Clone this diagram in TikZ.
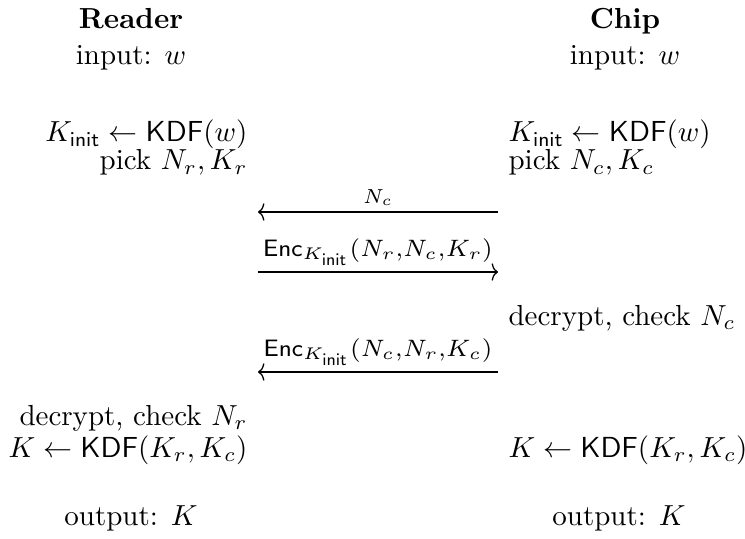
\documentclass[tikz,border=0pt]{standalone}
\usepackage{amsmath}
\usetikzlibrary{arrows.meta}
\begin{document}
\begin{tikzpicture}[x=0.34483pt,y=-0.34483pt,
  txt/.style={inner sep=0pt},
  lcol/.style={txt,anchor=base east},
  rcol/.style={txt,anchor=base west},
  head/.style={txt,anchor=base},
  msg/.style={-{Computer Modern Rightarrow[length=2.2pt,width=6pt]},line width=0.45pt},
  lab/.style={inner sep=0pt,anchor=base,midway},
  biglab/.style={lab,scale=1.17}]
\useasboundingbox (0,0) rectangle (745,539);
% headers
\node[head] (rname) at (131,29) {\textbf{Reader}};
\node[head] (rin) at (131,65) {input: $w$};
\node[head] (cname) at (625,29) {\textbf{Chip}};
\node[head] (cin) at (625,65) {input: $w$};
% reader column
\node[lcol] (r1) at (248,142) {$K_{\mathsf{init}} \leftarrow \mathsf{KDF}(w)$};
\node[lcol] (r2) at (248,170) {pick $N_r, K_r$};
\node[lcol] (r3) at (248,425) {decrypt, check $N_r$};
\node[lcol] (r4) at (248,457) {$K \leftarrow \mathsf{KDF}(K_r, K_c)$};
\node[head] (r5) at (131,525) {output: $K$};
% chip column
\node[rcol] (c1) at (508,142) {$K_{\mathsf{init}} \leftarrow \mathsf{KDF}(w)$};
\node[rcol] (c2) at (508,170) {pick $N_c, K_c$};
\node[rcol] (c3) at (508,325) {decrypt, check $N_c$};
\node[rcol] (c4) at (508,457) {$K \leftarrow \mathsf{KDF}(K_r, K_c)$};
\node[head] (c5) at (619,525) {output: $K$};
% messages
\coordinate (m1a) at (498,212);
\coordinate (m1b) at (258,212);
\coordinate (m2a) at (258,272);
\coordinate (m2b) at (498,272);
\coordinate (m3a) at (498,372);
\coordinate (m3b) at (258,372);
\draw[msg] (m1a) -- node[lab,yshift=3.1pt] {$\scriptstyle N_c$} (m1b);
\draw[msg] (m2a) -- node[biglab,yshift=4.6pt] {$\scriptstyle \mathsf{Enc}_{K_{\mathsf{init}}}(N_r,N_c,K_r)$} (m2b);
\draw[msg] (m3a) -- node[biglab,yshift=4.6pt] {$\scriptstyle \mathsf{Enc}_{K_{\mathsf{init}}}(N_c,N_r,K_c)$} (m3b);
\end{tikzpicture}
\end{document}
